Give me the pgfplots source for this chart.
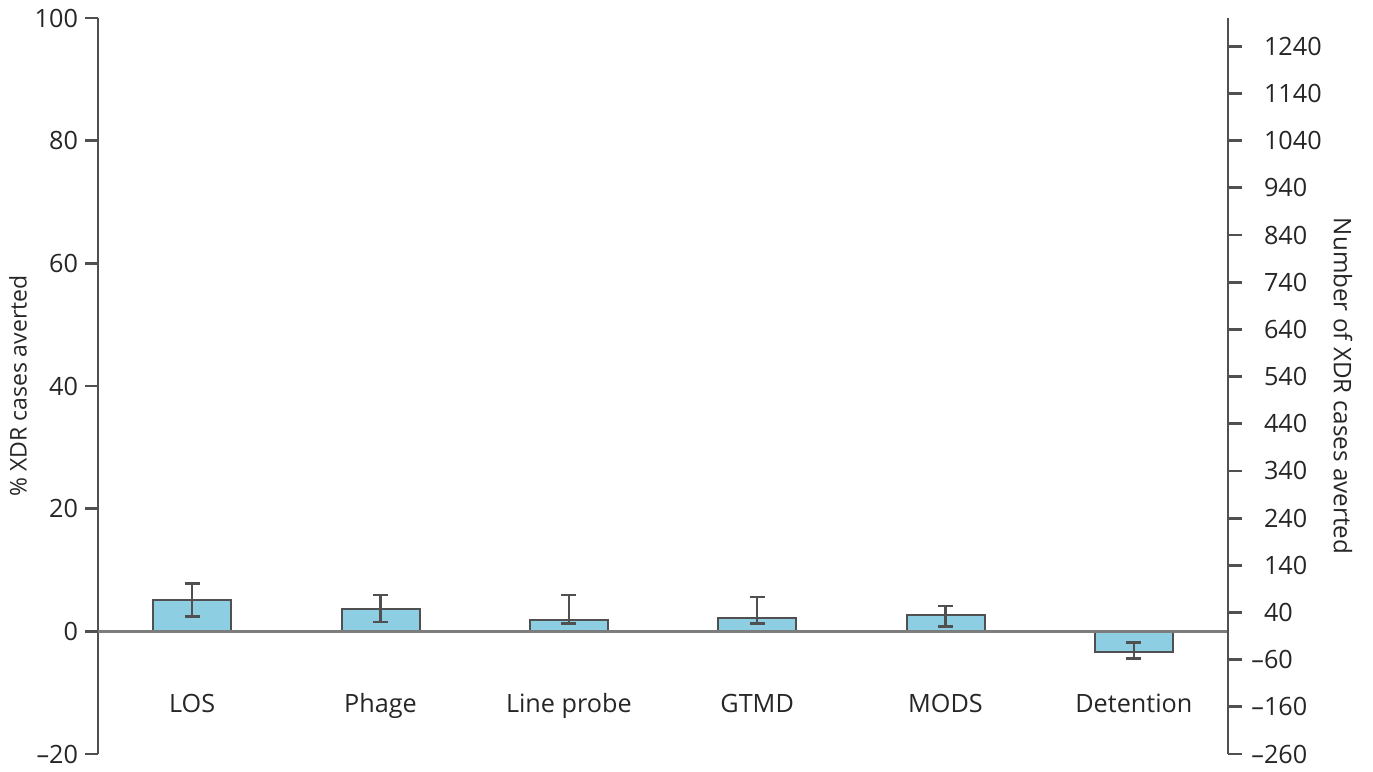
\documentclass[border=0pt]{standalone}
\usepackage{pgfplots}
\pgfplotsset{compat=1.18}
\usepackage{fontspec}
\setmainfont{Open Sans}
\definecolor{barfill}{RGB}{142,206,226}
\definecolor{axgray}{RGB}{80,80,80}
\definecolor{zerogray}{RGB}{125,125,125}
\begin{document}
\begin{tikzpicture}
\useasboundingbox (-49pt,-9pt) rectangle (637.5pt,377pt);
\begin{axis}[
  at={(0,0)}, anchor=south west,
  scale only axis, width=565pt, height=368pt,
  xmin=-0.5, xmax=5.5, ymin=-20, ymax=100,
  hide x axis,
  axis y line*=left,
  axis line style={axgray, line width=1.4pt},
  ytick={-20,0,20,40,60,80,100},
  yticklabels={--20,0,20,40,60,80,100},
  tick align=outside, major tick length=6.5pt,
  tick style={axgray, line width=1.4pt},
  yticklabel style={font=\fontsize{12.6}{14}\selectfont, text=black!85},
  clip=false,
]
\addplot[ybar, bar width=39pt, fill=barfill, draw=axgray, line width=1pt,
  error bars/.cd, y dir=both, y explicit,
  error bar style={line width=1.2pt, color=axgray},
  error mark options={rotate=90, mark size=3.8pt, line width=1.2pt, color=axgray}]
coordinates {
  (0,5.1) += (0,2.7) -= (0,2.7)
  (1,3.6) += (0,2.3) -= (0,2.1)
  (2,1.9) += (0,4.0) -= (0,0.6)
  (3,2.1) += (0,3.5) -= (0,0.8)
  (4,2.6) += (0,1.5) -= (0,1.8)
  (5,-3.3) += (0,1.5) -= (0,1.1)
};
\addplot[zerogray, line width=1.6pt, forget plot] coordinates {(-0.5,0) (5.5,0)};
\foreach \i/\lab in {0/LOS,1/Phage,2/Line probe,3/GTMD,4/MODS,5/Detention}{
  \edef\temp{\noexpand\node[anchor=base, font=\noexpand\fontsize{12.6}{14}\noexpand\selectfont, text=black!85] at (axis cs:\i,-13.2) {\lab};}
  \temp
}
\node[rotate=90, font=\fontsize{11.5}{13}\selectfont, text=black!85] at (axis description cs:-0.0708,0.5) {\% XDR cases averted};
\node[rotate=-90, font=\fontsize{12.1}{13}\selectfont, text=black!85] at (axis description cs:1.1018,0.5) {Number of XDR cases averted};
\end{axis}
\begin{axis}[
  at={(0,0)}, anchor=south west,
  scale only axis, width=565pt, height=368pt,
  xmin=-0.5, xmax=5.5, ymin=-260, ymax=1300,
  hide x axis,
  axis y line*=right,
  axis line style={axgray, line width=1.4pt},
  ytick={-260,-160,...,1240},
  yticklabels={\llap{--}260,\llap{--}160,\llap{--}60,40,140,240,340,440,540,640,740,840,940,1040,1140,1240},
  tick align=outside, major tick length=7pt,
  tick style={axgray, line width=1.4pt},
  yticklabel style={font=\fontsize{12.6}{14}\selectfont, text=black!85, xshift=7.5pt},
]
\end{axis}
\end{tikzpicture}
\end{document}
